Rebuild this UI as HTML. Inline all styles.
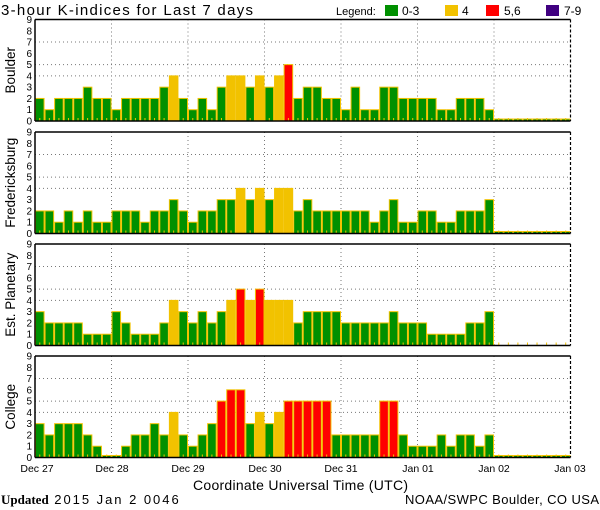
<!DOCTYPE html>
<html><head><meta charset="utf-8">
<style>
html,body{margin:0;padding:0;background:#fff;}
svg{display:block;}
text{font-family:"Liberation Sans",sans-serif;fill:#000;}
</style></head>
<body>
<svg id="s" width="600" height="510" xmlns="http://www.w3.org/2000/svg">
<text x="1" y="15" font-size="15" textLength="252" lengthAdjust="spacing">3-hour K-indices for Last 7 days</text>
<text x="336" y="15" font-size="11">Legend:</text>
<rect x="385" y="5" width="13" height="11" fill="#009000"/>
<text x="402" y="15" font-size="12">0-3</text>
<rect x="445" y="5" width="13" height="11" fill="#f2c200"/>
<text x="462" y="15" font-size="12">4</text>
<rect x="486" y="5" width="13" height="11" fill="#ff0000"/>
<text x="504" y="15" font-size="12">5,6</text>
<rect x="546" y="5" width="13" height="11" fill="#400080"/>
<text x="564" y="15" font-size="12">7-9</text>
<g id="g"></g>
<g font-size="10.5" text-anchor="middle">
<text x="37" y="472">Dec 27</text>
<text x="112" y="472">Dec 28</text>
<text x="188" y="472">Dec 29</text>
<text x="265" y="472">Dec 30</text>
<text x="341" y="472">Dec 31</text>
<text x="418" y="472">Jan 01</text>
<text x="494" y="472">Jan 02</text>
<text x="570" y="472">Jan 03</text>
</g>
<text x="193" y="490" font-size="14" textLength="215" lengthAdjust="spacing">Coordinate Universal Time (UTC)</text>
<text x="1" y="504" font-size="13"><tspan font-family="Liberation Serif" font-weight="bold">Updated</tspan><tspan textLength="130" lengthAdjust="spacing"> 2015 Jan  2 0046</tspan></text>
<text x="405" y="504" font-size="13" textLength="194" lengthAdjust="spacing">NOAA/SWPC Boulder, CO USA</text>
</svg>
<script>
var data=[
["Boulder",19.5,[2,1,2,2,2,3,2,2, 1,2,2,2,2,3,4,2, 1,2,1,3,4,4,3,4, 3,4,5,2,3,3,2,2, 1,3,1,1,3,3,2,2, 2,2,1,1,2,2,2,1, 0,0,0,0,0,0,0,0]],
["Fredericksburg",132,[2,2,1,2,1,2,1,1, 2,2,2,1,2,2,3,2, 1,2,2,3,3,4,3,4, 3,4,4,2,3,2,2,2, 2,2,2,1,2,3,1,1, 2,2,1,1,2,2,2,3, 0,0,0,0,0,0,0,0]],
["Est. Planetary",244,[3,2,2,2,2,1,1,1, 3,2,1,1,1,2,4,3, 2,3,2,3,4,5,4,5, 4,4,4,2,3,3,3,3, 2,2,2,2,2,3,2,2, 2,1,1,1,1,2,2,3, -1,-1,-1,-1,-1,-1,-1,-1]],
["College",356,[3,2,3,3,3,2,1,0, 0,1,2,2,3,2,4,2, 1,2,3,5,6,6,3,4, 3,4,5,5,5,5,5,2, 2,2,2,2,5,5,2,1, 1,1,2,1,2,2,1,2, 0,0,0,0,0,0,0,0]]
];
var L=35,R=570.5,H=101.5,u=H/9,bw=(R-L)/56,h='';
function col(v){return v<=3?'#009000':v==4?'#f2c200':v<=6?'#ff0000':'#400080';}
data.forEach(function(d){
 var t=d[1],b=t+H;
 [4,5,7].forEach(function(k){var y=b-k*u;h+='<line x1="'+L+'" x2="'+R+'" y1="'+y+'" y2="'+y+'" stroke="#777" stroke-width="1" stroke-dasharray="1,3"/>';});
 for(var i=1;i<7;i++){var x=L+i*8*bw;h+='<line x1="'+x+'" x2="'+x+'" y1="'+t+'" y2="'+b+'" stroke="#777" stroke-width="1" stroke-dasharray="1,3"/>';}
 d[2].forEach(function(v,i){var x=L+i*bw;
  if(v>=0){var hh=v==0?2:v*u;h+='<rect x="'+(x+0.5)+'" y="'+(b-hh)+'" width="'+(bw-1)+'" height="'+hh+'" fill="'+col(v)+'" stroke="#f2c200" stroke-width="1"/>';}
  h+='<rect x="'+(x+bw/2-0.5)+'" y="'+(b-3)+'" width="1" height="3" fill="#f2c200"/>';
 });
 h+='<line x1="'+L+'" x2="'+R+'" y1="'+t+'" y2="'+t+'" stroke="#000" stroke-width="1.5"/>';
 h+='<line x1="'+L+'" x2="'+R+'" y1="'+b+'" y2="'+b+'" stroke="#000" stroke-width="1.5"/>';
 h+='<line x1="'+L+'" x2="'+L+'" y1="'+t+'" y2="'+b+'" stroke="#000" stroke-width="1.5"/>';
 h+='<line x1="'+R+'" x2="'+R+'" y1="'+t+'" y2="'+b+'" stroke="#000" stroke-width="1.2" stroke-dasharray="3,2"/>';
 for(var k=0;k<=9;k++){h+='<text x="32" y="'+(b-k*u+3.5)+'" font-size="10" text-anchor="end">'+k+'</text>';}
 var cy=t+H/2;
 h+='<text x="0" y="0" font-size="13.5" text-anchor="middle" transform="translate(15,'+cy+') rotate(-90)">'+d[0]+'</text>';
});
document.getElementById('g').innerHTML=h;
</script>
</body></html>
